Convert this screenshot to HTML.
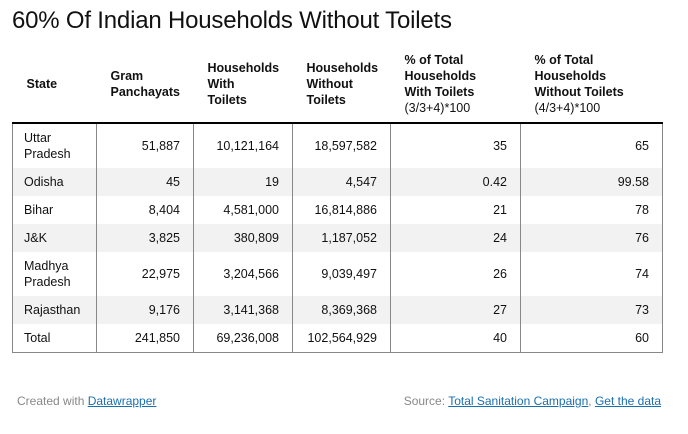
<!DOCTYPE html>
<html><head><meta charset="utf-8"><style>
body{margin:0;width:688px;height:434px;background:#fff;font-family:"Liberation Sans",Arial,sans-serif;color:#111;position:relative;overflow:hidden}
h1{position:absolute;left:12px;top:7px;margin:0;font-size:24px;font-weight:normal;color:#111;letter-spacing:-0.2px}
table{position:absolute;left:12px;top:44px;border-collapse:collapse;table-layout:fixed;width:650px;font-size:12.5px}
th{font-weight:bold;text-align:left;vertical-align:middle;padding:2px 0 0 14px;line-height:16px;height:76px;border-bottom:2px solid #000}
td{border-left:1px solid #888;border-right:1px solid #888;padding:0 13px 0 11px;line-height:16px;text-align:right}
td:first-child{text-align:left}
tr.g td{background:#f2f2f2}
tr.r td{height:28px}
tr.t td{height:44px}
tbody tr:last-child td{border-bottom:1px solid #888}
.foot{position:absolute;top:394px;font-size:12px;color:#888}
a{color:#1a6fb0;text-decoration:underline}
</style></head><body>
<h1>60% Of Indian Households Without Toilets</h1>
<table>
<colgroup><col style="width:84px"><col style="width:97px"><col style="width:99px"><col style="width:98px"><col style="width:130px"><col style="width:142px"></colgroup>
<thead><tr>
<th>State</th>
<th>Gram<br>Panchayats</th>
<th>Households<br>With<br>Toilets</th>
<th>Households<br>Without<br>Toilets</th>
<th>% of Total<br>Households<br>With Toilets<br><span style="font-weight:normal">(3/3+4)*100</span></th>
<th>% of Total<br>Households<br>Without Toilets<br><span style="font-weight:normal">(4/3+4)*100</span></th>
</tr></thead>
<tbody>
<tr class="t"><td>Uttar<br>Pradesh</td><td>51,887</td><td>10,121,164</td><td>18,597,582</td><td>35</td><td>65</td></tr>
<tr class="r g"><td>Odisha</td><td>45</td><td>19</td><td>4,547</td><td>0.42</td><td>99.58</td></tr>
<tr class="r"><td>Bihar</td><td>8,404</td><td>4,581,000</td><td>16,814,886</td><td>21</td><td>78</td></tr>
<tr class="r g"><td>J&amp;K</td><td>3,825</td><td>380,809</td><td>1,187,052</td><td>24</td><td>76</td></tr>
<tr class="t"><td>Madhya<br>Pradesh</td><td>22,975</td><td>3,204,566</td><td>9,039,497</td><td>26</td><td>74</td></tr>
<tr class="r g"><td>Rajasthan</td><td>9,176</td><td>3,141,368</td><td>8,369,368</td><td>27</td><td>73</td></tr>
<tr class="r"><td>Total</td><td>241,850</td><td>69,236,008</td><td>102,564,929</td><td>40</td><td>60</td></tr>
</tbody></table>
<div class="foot" style="left:17px">Created with <a>Datawrapper</a></div>
<div class="foot" style="right:27px">Source: <a>Total Sanitation Campaign</a>, <a>Get the data</a></div>
</body></html>
